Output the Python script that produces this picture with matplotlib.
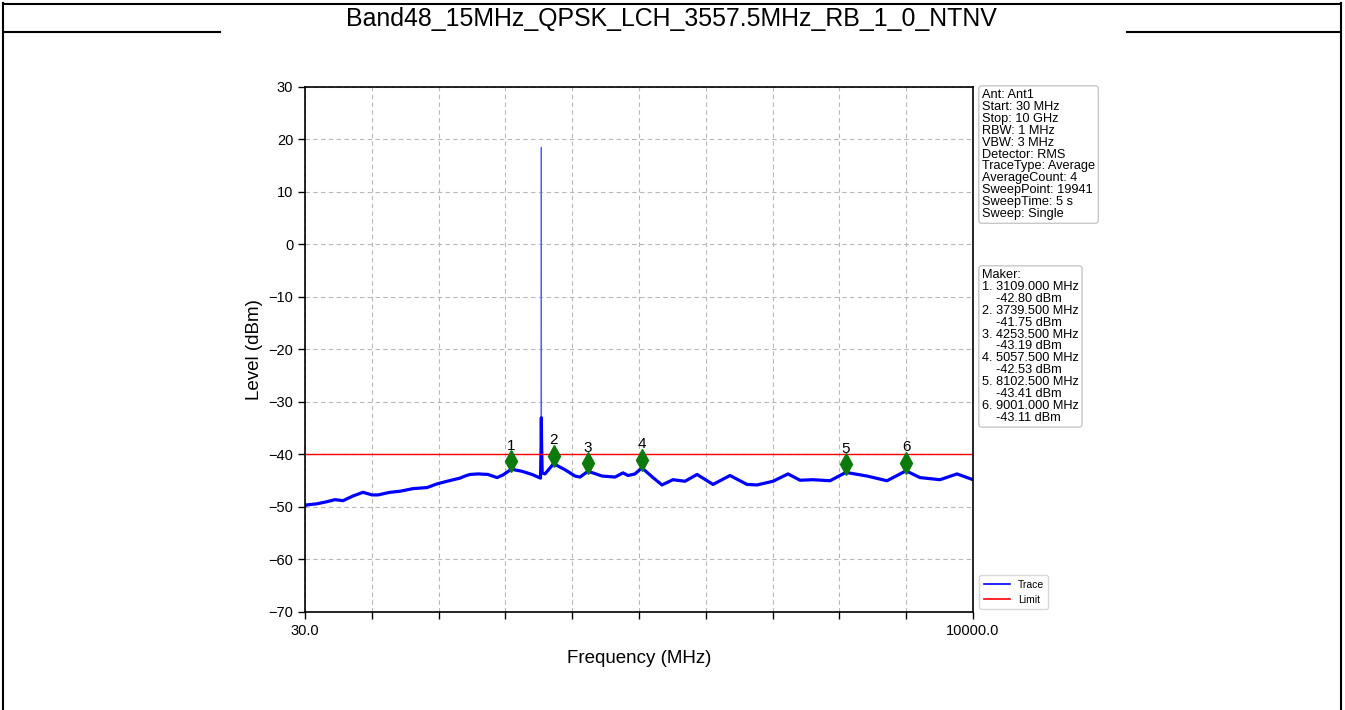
import numpy as np
import matplotlib
matplotlib.use("Agg")
import matplotlib.pyplot as plt
from matplotlib.lines import Line2D
import matplotlib.transforms as mtransforms

plt.rcParams['font.family'] = ['Liberation Sans', 'DejaVu Sans']
plt.rcParams['axes.unicode_minus'] = True

title = "Band48_15MHz_QPSK_LCH_3557.5MHz_RB_1_0_NTNV"

# noise floor trace (MHz, dBm)
trace_freq = [30, 55, 205, 354, 478, 597, 746, 896, 1030, 1120, 1299, 1448, 1642, 1851,
              2000, 2149, 2343, 2418, 2493, 2612, 2761, 2896, 2985, 3109, 3269, 3418,
              3508, 3545, 3554, 3557.5, 3561, 3570, 3612, 3740, 3910, 4060, 4134, 4254,
              4463, 4657, 4776, 4851, 4955, 5058, 5224, 5358, 5522, 5701, 5881, 6120,
              6373, 6627, 6776, 7015, 7239, 7418, 7612, 7866, 8102, 8418, 8716, 9001,
              9209, 9508, 9761, 10000]
trace_level = [-49.8, -49.6, -49.4, -49.0, -48.6, -48.8, -47.9, -47.2, -47.7, -47.7, -47.2,
               -47.0, -46.5, -46.3, -45.6, -45.1, -44.5, -44.1, -43.8, -43.7, -43.8, -44.4,
               -43.9, -42.8, -43.2, -43.8, -44.3, -44.5, -38.0, -33.0, -38.0, -43.5, -43.7,
               -41.75, -42.9, -44.1, -44.3, -43.19, -44.1, -44.3, -43.5, -44.0, -43.7,
               -42.53, -44.4, -45.8, -44.8, -45.1, -43.8, -45.7, -44.0, -45.7, -45.8,
               -45.1, -43.7, -44.9, -44.8, -45.0, -43.41, -44.1, -45.0, -43.11, -44.4,
               -44.8, -43.7, -44.8]

# carrier peak
carrier_freq = [3556.5, 3557.5, 3558.5]
carrier_level = [-33.0, 18.5, -33.0]

limit_freq = [30, 10000]
limit_level = [-40, -40]

marker_ids = ["1", "2", "3", "4", "5", "6"]
marker_freq = [3109.0, 3739.5, 4253.5, 5057.5, 8102.5, 9001.0]
marker_level = [-42.80, -41.75, -43.19, -42.53, -43.41, -43.11]

settings_lines = ["Ant: Ant1", "Start: 30 MHz", "Stop: 10 GHz", "RBW: 1 MHz", "VBW: 3 MHz",
                  "Detector: RMS", "TraceType: Average", "AverageCount: 4",
                  "SweepPoint: 19941", "SweepTime: 5 s", "Sweep: Single"]

x_ticks = list(np.linspace(30, 10000, 11))
x_tick_labels = ["30.0"] + [""] * 9 + ["10000.0"]
y_ticks = [-70, -60, -50, -40, -30, -20, -10, 0, 10, 20, 30]

W, H = 1345, 710
fig = plt.figure(figsize=(W / 100, H / 100), dpi=100)

def fx(px):
    return px / W

def fy(py):
    return 1 - py / H

# frame lines
fig.add_artist(Line2D([fx(3), fx(3)], [fy(3), fy(710)], color='black', lw=1.5))
fig.add_artist(Line2D([fx(1341), fx(1341)], [fy(3), fy(710)], color='black', lw=1.5))
fig.add_artist(Line2D([fx(3), fx(1341)], [fy(4), fy(4)], color='black', lw=1.5))
fig.add_artist(Line2D([fx(3), fx(220)], [fy(32), fy(32)], color='black', lw=1.5))
fig.add_artist(Line2D([fx(1127), fx(1341)], [fy(32), fy(32)], color='black', lw=1.5))
fig.text(fx(671), fy(26), title, ha='center', va='baseline', fontsize=17.9)

ax = fig.add_axes([fx(305), fy(612), (973 - 305) / W, (612 - 87) / H])
ax.plot(carrier_freq, carrier_level, color='#5060ff', lw=0.9)
ax.plot(trace_freq, trace_level, color='blue', lw=2.3, label='Trace')
ax.plot(limit_freq, limit_level, color='red', lw=1.0, label='Limit')

off = mtransforms.ScaledTranslation(0, 8 / 100, fig.dpi_scale_trans)
ax.plot(marker_freq, marker_level, linestyle='none', marker='d', markersize=11,
        color='#0a7a0a', transform=ax.transData + off)
for mid, f, l in zip(marker_ids, marker_freq, marker_level):
    ax.annotate(mid, (f, l), xytext=(0, 17), textcoords='offset points',
                ha='center', va='center', fontsize=11)

ax.set_xlim(30, 10000)
ax.set_ylim(-70, 30)
ax.set_xticks(x_ticks)
ax.set_xticklabels(x_tick_labels, fontsize=10.5)
ax.set_yticks(y_ticks)
ax.set_yticklabels([str(v).replace('-', '\u2212') for v in y_ticks], fontsize=10.5)
ax.tick_params(direction='out', length=5, width=1)
ax.grid(True, linestyle=(0, (4, 3)), color='#b8b8b8', lw=0.8)
for s in ax.spines.values():
    s.set_linewidth(1.2)
ax.set_xlabel("Frequency (MHz)", fontsize=13.5, labelpad=9)
ax.set_ylabel("Level (dBm)", fontsize=13.5, labelpad=4)

box = dict(boxstyle='round,pad=0.25', fc='white', ec='#c8c8c8', lw=1)
fig.text(fx(982), fy(89), "\n".join(settings_lines), ha='left', va='top',
         fontsize=9.2, linespacing=0.99, bbox=box)

mk_lines = ["Maker:"]
for mid, f, l in zip(marker_ids, marker_freq, marker_level):
    mk_lines.append(f"{mid}. {f:.3f} MHz")
    mk_lines.append(f"    {l:.2f} dBm")
fig.text(fx(982), fy(269), "\n".join(mk_lines), ha='left', va='top',
         fontsize=9.2, linespacing=0.99, bbox=box)

leg = ax.legend(loc='lower left', bbox_to_anchor=(1.005, 0.0), fontsize=7.5,
                frameon=True, handlelength=2.5, borderaxespad=0.3)
leg.get_frame().set_edgecolor('#d0d0d0')
for h in leg.get_lines():
    h.set_linewidth(1.2)

fig.savefig("out.png", dpi=100)
